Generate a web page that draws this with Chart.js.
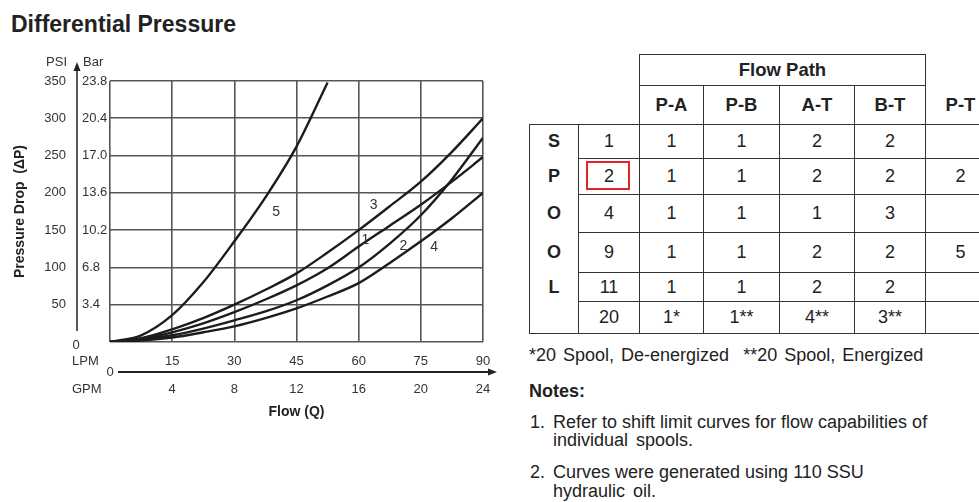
<!DOCTYPE html>
<html>
<head>
<meta charset="utf-8">
<title>Differential Pressure</title>
<script src="https://cdn.jsdelivr.net/npm/chart.js@4.4.1/dist/chart.umd.min.js"></script>
<style>
  html, body { margin: 0; padding: 0; background: #fff; }
  body { width: 979px; height: 502px; position: relative; overflow: hidden;
         font-family: 'Liberation Sans', Arial, sans-serif; color: #222; }
  #title { position: absolute; left: 11px; top: 11px; font-size: 23px; font-weight: bold; line-height: 26px; color: #222; }
  #chartBox { position: absolute; left: 0; top: 0; width: 520px; height: 440px; }
  #spools { position: absolute; left: 529px; top: 54px; width: 466px; border-collapse: collapse; table-layout: fixed; font-size: 18px; color: #222; }
  #spools td, #spools th { padding: 0; text-align: center; vertical-align: middle; border: none; }
  #spools th { font-weight: bold; font-size: 18.5px; }
  #spools .fp { border: 1.5px solid #333; }
  #spools th.path { border: 1.5px solid #333; }
  #spools th.path.last { border-top: none; }
  #spools td.cell { border: 1.5px solid #333; }
  #spools td.letter { border-left: 1.5px solid #333; border-right: 1.5px solid #333; font-weight: bold; }
  #spools td.letter.first { border-top: 1.5px solid #333; }
  #spools td.letter.lastrow { border-bottom: 1.5px solid #333; }
  #mark { position: absolute; left: 586px; top: 161px; width: 44px; height: 29px; box-sizing: border-box; border: 2.5px solid #e2232a; }
  .txt { position: absolute; font-size: 18px; line-height: 20px; color: #222; white-space: nowrap; }
  .bold { font-weight: bold; }
</style>
</head>
<body>
<div id="title">Differential Pressure</div>
<div id="chartBox"><canvas id="dp-chart" width="520" height="440"></canvas></div>
<table id="spools"></table>
<div id="mark"></div>
<div class="txt" style="left:529px; top:345px; word-spacing:2px;">*20 Spool, De-energized &nbsp;**20 Spool, Energized</div>
<div class="txt bold" style="left:529px; top:381px;">Notes:</div>
<div class="txt" style="left:530px; top:412px;">1.</div>
<div class="txt" style="left:553px; top:412px;">Refer to shift limit curves for flow capabilities of</div>
<div class="txt" style="left:553px; top:430px; word-spacing:3px;">individual spools.</div>
<div class="txt" style="left:530px; top:462px;">2.</div>
<div class="txt" style="left:553px; top:462px;">Curves were generated using 110 SSU</div>
<div class="txt" style="left:553px; top:481px; word-spacing:3px;">hydraulic oil.</div>
<script>
// Flow (LPM) where the curves are sampled
const lpm = [0, 7.5, 15, 22.5, 30, 37.5, 45, 52.5, 60, 67.5, 75, 82.5, 90];

// Pressure drop (PSI) for each curve
const curve1 = [0, 4, 13, 25, 40, 57, 76, 99, 128, 156, 184, 215, 248];
const curve2 = [0, 3, 9, 18, 29, 41, 56, 76, 100, 132, 170, 218, 274];
const curve3 = [0, 5, 17, 32, 50, 70, 92, 120, 150, 182, 215, 255, 300];
const curve4 = [0, 2, 6, 13, 21, 32, 45, 61, 79, 106, 135, 166, 200];
const curve5 = [0, 9, 36, 80, 135, 194, 262, 348];
const curveNames = ['1', '2', '3', '4', '5'];

// where each curve number is written (LPM, PSI)
const curveLabelAt = [[61.6, 137], [70.8, 128], [63.6, 183], [78.2, 127], [40.1, 174]];

// Axis ticks
const psiTicks = [0, 50, 100, 150, 200, 250, 300, 350];
const barTicks = [3.4, 6.8, 10.2, 13.6, 17.0, 20.4, 23.8];
const lpmTicks = [0, 15, 30, 45, 60, 75, 90];
const gpmTicks = [4, 8, 12, 16, 20, 24];

// Spool table
const flowPaths = ['P-A', 'P-B', 'A-T', 'B-T', 'P-T'];
const spoolLetters = ['S', 'P', 'O', 'O', 'L', ''];
const spoolNumbers = ['1', '2', '4', '9', '11', '20'];
const pathCurves = [
    ['1', '1', '2', '2', ''],
    ['1', '1', '2', '2', '2'],
    ['1', '1', '1', '3', ''],
    ['1', '1', '2', '2', '5'],
    ['1', '1', '2', '2', ''],
    ['1*', '1**', '4**', '3**', '']
];

const colWidths = [49, 61, 64, 76, 75, 71, 70];
const rowHeights = [34, 36, 38, 40, 29, 32];

const FONT = "'Liberation Sans', Arial, sans-serif";
const INK = '#222';
const GRID = '#555';

function buildTable() {
    let html = '<colgroup>' + colWidths.map(w => `<col style="width:${w}px">`).join('') + '</colgroup>';
    html += '<tr style="height:31px"><td colspan="2"></td><th colspan="4" class="fp">Flow Path</th><td></td></tr>';
    html += '<tr style="height:39px"><td colspan="2"></td>' +
        flowPaths.map((p, i) => `<th class="path${i === flowPaths.length - 1 ? ' last' : ''}">${p}</th>`).join('') + '</tr>';
    spoolNumbers.forEach((num, r) => {
        let cls = 'letter';
        if (r === 0) cls += ' first';
        if (r === spoolNumbers.length - 1) cls += ' lastrow';
        html += `<tr style="height:${rowHeights[r]}px"><td class="${cls}">${spoolLetters[r]}</td><td class="cell">${num}</td>` +
            pathCurves[r].map(c => `<td class="cell">${c}</td>`).join('') + '</tr>';
    });
    document.getElementById('spools').innerHTML = html;
}

// axis arrows, unit headers and curve numbers
const decorPlugin = {
    id: 'decor',
    afterDraw(chart) {
        const { ctx, chartArea, scales } = chart;
        const ax = scales.y2.left - 5;
        ctx.save();
        ctx.strokeStyle = INK;
        ctx.fillStyle = INK;

        // vertical arrow
        ctx.lineWidth = 1.5;
        ctx.beginPath();
        ctx.moveTo(ax, chartArea.bottom - 11);
        ctx.lineTo(ax, chartArea.top - 12);
        ctx.stroke();
        ctx.beginPath();
        ctx.moveTo(ax, chartArea.top - 19);
        ctx.lineTo(ax - 3.5, chartArea.top - 10);
        ctx.lineTo(ax + 3.5, chartArea.top - 10);
        ctx.closePath();
        ctx.fill();

        // horizontal arrow
        const ay = scales.x.bottom;
        ctx.lineWidth = 2;
        ctx.beginPath();
        ctx.moveTo(chartArea.left + 8, ay);
        ctx.lineTo(chartArea.right + 7, ay);
        ctx.stroke();
        ctx.beginPath();
        ctx.moveTo(chartArea.right + 14, ay);
        ctx.lineTo(chartArea.right + 5, ay - 3.5);
        ctx.lineTo(chartArea.right + 5, ay + 3.5);
        ctx.closePath();
        ctx.fill();

        ctx.font = '13px ' + FONT;
        ctx.fillStyle = '#333';
        ctx.textBaseline = 'middle';
        ctx.textAlign = 'right';
        ctx.fillText('PSI', ax - 10, chartArea.top - 19);
        ctx.textAlign = 'left';
        ctx.fillText('Bar', ax + 6, chartArea.top - 19);
        ctx.fillText('LPM', 72, 361.5);
        ctx.fillText('GPM', 72, 389);
        ctx.textAlign = 'center';
        ctx.fillText('0', ax - 1, chartArea.bottom + 3);
        ctx.fillText('0', chartArea.left, ay);

        // curve numbers
        ctx.font = '14px ' + FONT;
        curveLabelAt.forEach((p, i) => {
            ctx.fillText(curveNames[i], scales.x.getPixelForValue(p[0]), scales.y.getPixelForValue(p[1]));
        });
        ctx.restore();
    }
};

function initChart() {
    const curves = [curve1, curve2, curve3, curve4, curve5];
    const datasets = curves.map((vals, i) => ({
        label: curveNames[i],
        data: vals.map((v, j) => ({ x: lpm[j], y: v })),
        borderColor: '#1c1c1c',
        borderWidth: 2.4,
        pointRadius: 0,
        fill: false,
        cubicInterpolationMode: 'monotone'
    }));

    const tickFont = { family: FONT, size: 13 };

    new Chart(document.getElementById('dp-chart').getContext('2d'), {
        type: 'line',
        data: { datasets: datasets },
        options: {
            responsive: false,
            maintainAspectRatio: false,
            animation: false,
            devicePixelRatio: 1,
            layout: { padding: { left: 0, top: 81, right: 37, bottom: 0 } },
            plugins: { legend: { display: false }, tooltip: { enabled: false } },
            scales: {
                x: {
                    type: 'linear', position: 'bottom', min: 0, max: 90,
                    afterBuildTicks: s => { s.ticks = lpmTicks.map(v => ({ value: v })); },
                    afterFit: s => { s.height = 30; },
                    ticks: { font: tickFont, color: '#333', padding: 12, maxRotation: 0,
                             callback: v => (v === 0 ? '' : v) },
                    grid: { color: GRID, lineWidth: 1.6, drawTicks: false },
                    border: { display: false }
                },
                x2: {
                    type: 'linear', position: 'bottom', min: 0, max: 24,
                    afterBuildTicks: s => { s.ticks = gpmTicks.map(v => ({ value: v })); },
                    afterFit: s => { s.height = 68; },
                    ticks: { font: tickFont, color: '#333', padding: 2, maxRotation: 0 },
                    grid: { display: false },
                    border: { display: false },
                    title: { display: true, text: 'Flow (Q)', color: INK,
                             font: { family: FONT, size: 14, weight: 'bold' },
                             padding: { top: 0, bottom: 19 } }
                },
                y: {
                    type: 'linear', position: 'left', min: 0, max: 350, weight: 1,
                    afterBuildTicks: s => { s.ticks = psiTicks.map(v => ({ value: v })); },
                    afterFit: s => { s.width = 82; },
                    ticks: { font: tickFont, color: '#333', padding: 16,
                             callback: v => (v === 0 ? '' : v) },
                    grid: { color: GRID, lineWidth: 1.6, drawTicks: false },
                    border: { display: false },
                    title: { display: true, text: 'Pressure Drop  (ΔP)', color: INK,
                             font: { family: FONT, size: 14, weight: 'bold' },
                             padding: { top: 12, bottom: 0 } }
                },
                y2: {
                    type: 'linear', position: 'left', min: 0, max: 23.8, weight: 0,
                    afterBuildTicks: s => { s.ticks = barTicks.map(v => ({ value: v })); },
                    afterFit: s => { s.width = 28; },
                    ticks: { font: tickFont, color: '#333', padding: 0, crossAlign: 'far',
                             callback: v => Number(v).toFixed(1) },
                    grid: { display: false },
                    border: { display: false }
                }
            }
        },
        plugins: [decorPlugin]
    });
}

document.addEventListener('DOMContentLoaded', () => {
    buildTable();
    initChart();
});
</script>
</body>
</html>
